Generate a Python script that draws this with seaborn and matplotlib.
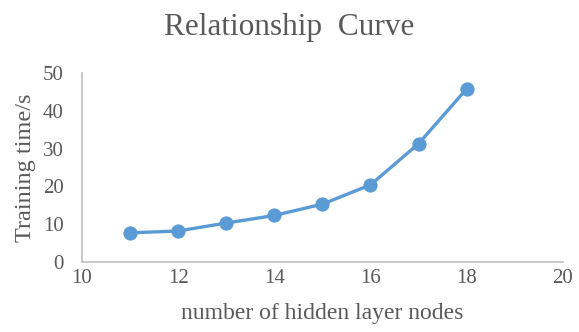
import matplotlib
matplotlib.use("Agg")
import matplotlib.pyplot as plt
import seaborn as sns
import pandas as pd

nodes = [11, 12, 13, 14, 15, 16, 17, 18]
train_time = [7.7, 8.2, 10.3, 12.3, 15.3, 20.4, 31.3, 45.8]
x_ticks = [10, 12, 14, 16, 18, 20]
y_ticks = [0, 10, 20, 30, 40, 50]

sns.set_theme(style="white")
plt.rcParams['font.family'] = ['Liberation Serif', 'DejaVu Serif']

df = pd.DataFrame({"nodes": nodes, "time": train_time})

fig = plt.figure(figsize=(5.79, 3.32), dpi=100)
ax = fig.add_axes([0.1416, 0.211, 0.8304, 0.569])
color = "#5B9BD5"
sns.lineplot(data=df, x="nodes", y="time", ax=ax, color=color, linewidth=2.4,
             marker="o", markersize=9.5, markeredgecolor=color, markerfacecolor=color)

ax.set_xlim(10, 20)
ax.set_ylim(0, 50)
ax.set_xticks(x_ticks)
ax.set_yticks(y_ticks)
txt = "#595959"
ax.tick_params(axis="both", length=0, labelsize=15, labelcolor=txt)
ax.tick_params(axis="x", pad=5)
ax.tick_params(axis="y", pad=13)
ax.set_xlabel("number of hidden layer nodes", fontsize=17, color=txt, labelpad=11)
ax.set_ylabel("Training time/s", fontsize=17.5, color=txt, labelpad=5)
fig.suptitle("Relationship  Curve", fontsize=22.5, color=txt, y=0.962)
for s in ["top", "right"]:
    ax.spines[s].set_visible(False)
for s in ["left", "bottom"]:
    ax.spines[s].set_color("#BFBFBF")
    ax.spines[s].set_linewidth(1.2)
ax.grid(False)

fig.savefig("out.png", dpi=100)
